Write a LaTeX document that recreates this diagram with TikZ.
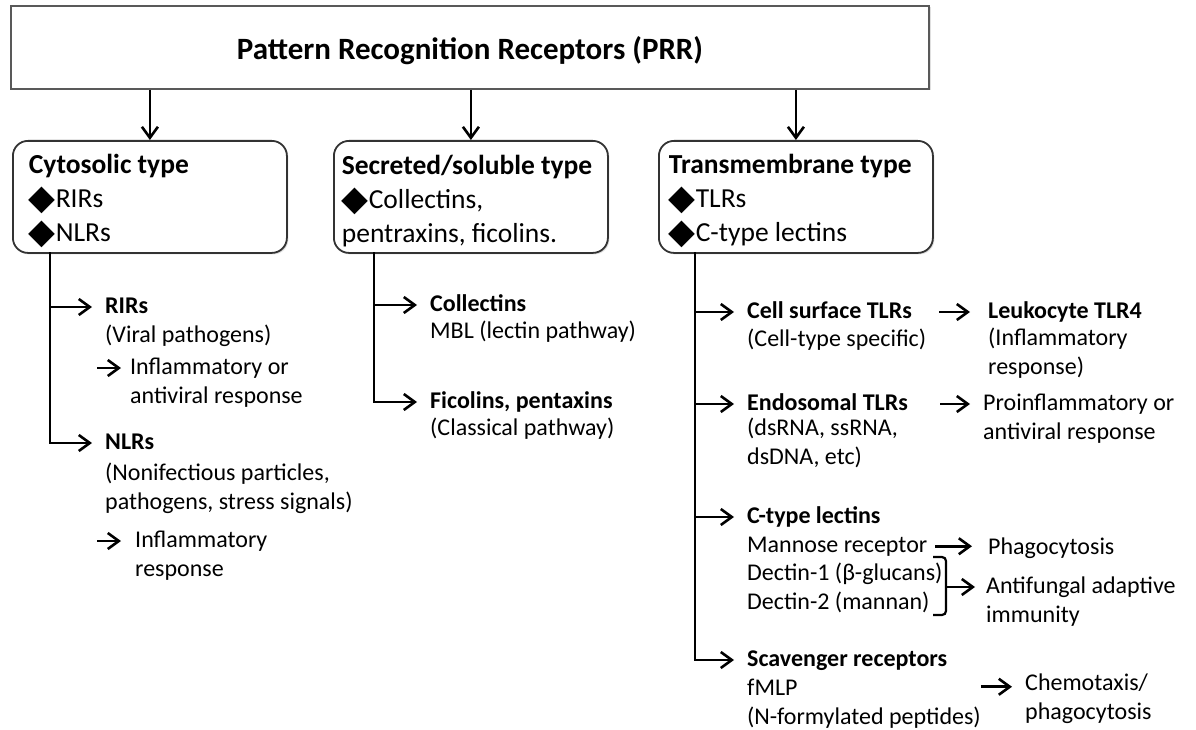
\documentclass[tikz,border=0pt]{standalone}
\usepackage{fontspec}
\setmainfont{Carlito}
\newfontfamily\symfont{DejaVu Sans}
\usetikzlibrary{arrows.meta,positioning,shadows}
\newcommand{\dmd}{\raisebox{-1.5pt}{\symfont\fontsize{35}{35}\selectfont ◆}}

\begin{document}
\begin{tikzpicture}[x=1pt, y=-1pt,
    arr/.style={-{Straight Barb[length=11pt,width=16pt]}, line width=2.6pt},
    typebox/.style={rectangle, rounded corners=15pt, draw=black!80, line width=1.8pt, fill=white,
        drop shadow={shadow xshift=1.5pt, shadow yshift=-1.5pt, opacity=.25},
        minimum width=274pt, minimum height=112pt, align=flush left, anchor=north west,
        execute at begin node={\spaceskip=0pt\xspaceskip=0pt\rule{0pt}{28pt}},
        font=\fontsize{27.5}{34}\selectfont},
    head/.style={anchor=base west, inner sep=0pt, text height=17pt, text depth=5pt,
        font=\fontsize{24}{29}\selectfont\bfseries},
    txt/.style={anchor=base west, inner sep=0pt, align=left, font=\fontsize{24}{29}\selectfont}]
    \useasboundingbox (0,0) rectangle (1196,730);

    % Top box and the three receptor types
    \node [rectangle, draw=black!65, line width=1.8pt, fill=white,
        drop shadow={shadow xshift=1.5pt, shadow yshift=-1.5pt, opacity=.25},
        minimum width=918pt, minimum height=83pt, text height=27pt, text depth=2pt,
        font=\fontsize{31}{36}\selectfont\bfseries]
        (prr) at (470,47.5) {Pattern Recognition Receptors (PRR)};
    \node [typebox, text width=242pt] (cyto) at (12,140) {\textbf{Cytosolic type}\\\dmd RIRs\\\dmd NLRs};
    \node [typebox, text width=258pt] (secr) at (333,140) {\textbf{Secreted/soluble type}\\\dmd Collectins,\\pentraxins, ficolins.};
    \node [typebox, text width=254pt] (trans) at (658,140) {\textbf{Transmembrane type}\\\dmd TLRs\\\dmd C-type lectins};

    \draw[arr] (prr.south -| cyto.north) -- (cyto.north);
    \draw[arr] (prr.south -| secr.north) -- (secr.north);
    \draw[arr] (prr.south -| trans.north) -- (trans.north);

    % Cytosolic branch
    \node [head] (rirs) at (105,313) {RIRs};
    \node [txt] (rirsnote) at (105,342) {(Viral pathogens)};
    \node [txt] (rirsout) at (130,403) {Inflammatory or\\antiviral response};
    \node [head] (nlrs) at (105,449) {NLRs};
    \node [txt] (nlrsnote) at (105,509) {(Nonifectious particles,\\pathogens, stress signals)};
    \node [txt] (nlrsout) at (135,576) {Inflammatory\\response};
    \coordinate (cytotrunk) at (50,252);
    \coordinate (rirsdot) at (97,368);
    \coordinate (nlrsdot) at (97,541);

    \draw[arr, shorten >=13pt] (cytotrunk) |- (rirs);
    \draw[arr, shorten >=13pt] (cytotrunk) |- (nlrs);
    \draw[arr, shorten >=9pt] (rirsdot) -- (rirsdot -| rirsout.west);
    \draw[arr, shorten >=14pt] (nlrsdot) -- (nlrsdot -| nlrsout.west);

    % Secreted branch
    \node [head] (coll) at (430,311) {Collectins};
    \node [txt] (collnote) at (430,338) {MBL (lectin pathway)};
    \node [head] (fico) at (430,408) {Ficolins, pentaxins};
    \node [txt] (ficonote) at (430,435) {(Classical pathway)};
    \coordinate (secrtrunk) at (374,252);

    \draw[arr, shorten >=13pt] (secrtrunk) |- (coll);
    \draw[arr, shorten >=13pt] (secrtrunk) |- (fico);

    % Transmembrane branch
    \node [head] (cstlr) at (747,318) {Cell surface TLRs};
    \node [txt] (cstlrnote) at (747,346) {(Cell-type specific)};
    \node [head] (leuko) at (988,318) {Leukocyte TLR4};
    \node [txt] (leukonote) at (988,374) {(Inflammatory\\response)};
    \node [head] (endo) at (747,410) {Endosomal TLRs};
    \node [txt] (endonote) at (747,464) {(dsRNA, ssRNA,\\dsDNA, etc)};
    \node [txt] (proinf) at (983,439) {Proinflammatory or\\antiviral response};
    \node [head] (ctype) at (747,523) {C-type lectins};
    \node [txt] (mannose) at (747,552) {Mannose receptor};
    \node [txt] (dectin) at (747,609) {Dectin-1 (β-glucans)\\Dectin-2 (mannan)};
    \node [txt] (phago) at (988,554) {Phagocytosis};
    \node [txt] (antifungal) at (986,622) {Antifungal adaptive\\immunity};
    \node [head] (scav) at (747,666) {Scavenger receptors};
    \node [txt] (fmlp) at (747,695) {fMLP};
    \node [txt] (fmlpnote) at (747,724) {(N-formylated peptides)};
    \node [txt] (chemo) at (1025,719) {Chemotaxis/\\phagocytosis};
    \coordinate (transtrunk) at (695,252);
    \coordinate (brk) at (946,587);

    \draw[arr, shorten >=13pt] (transtrunk) |- (cstlr);
    \draw[arr, shorten >=13pt] (transtrunk) |- (endo);
    \draw[arr, shorten >=13pt] (transtrunk) |- (ctype);
    \draw[arr, shorten >=13pt] (transtrunk) |- (scav);

    \draw[arr, shorten <=27pt, shorten >=18pt] (cstlr) -- (leuko);
    \draw[arr, shorten <=32pt, shorten >=13pt] (endo) -- (endo -| proinf.west);
    \draw[arr, shorten <=8pt, shorten >=16pt] (mannose) -- (mannose -| phago.west);
    \draw[line width=2.2pt, rounded corners=4pt] (933,557) -- (946,557) -- (946,615) -- (933,615);
    \draw[arr, shorten >=11pt] (brk) -- (brk -| antifungal.west);
    \draw[arr, shorten >=13pt] (fmlpnote.east |- fmlp) -- (fmlp -| chemo.west);
\end{tikzpicture}
\end{document}
